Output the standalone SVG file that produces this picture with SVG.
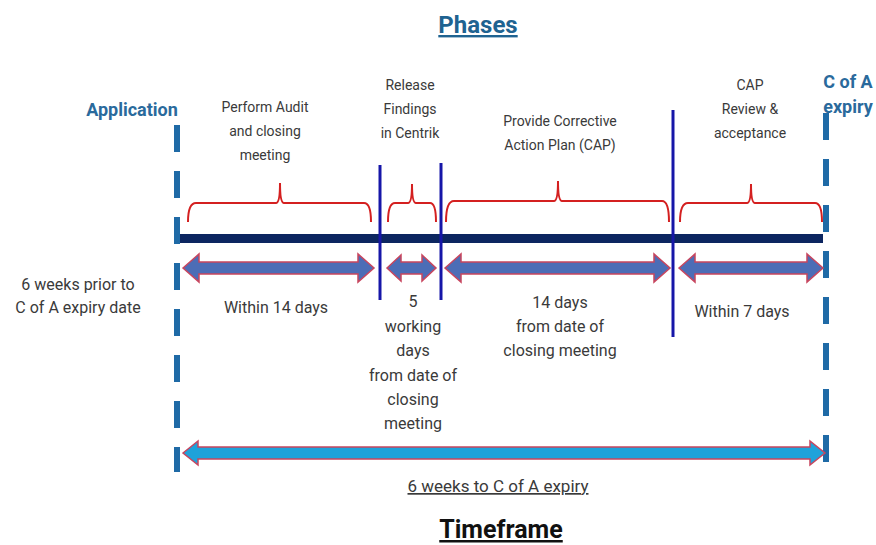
<svg xmlns="http://www.w3.org/2000/svg" width="876" height="545" viewBox="0 0 876 545">
<style>
.t{font-family:Roboto,"Liberation Sans",sans-serif;fill:#3a3a3a;text-anchor:middle}
.top{font-size:14px}
.bot{font-size:16px}
.head{font-family:Roboto,"Liberation Sans",sans-serif;font-weight:bold;fill:#2a6a9c;text-anchor:middle;font-size:18px}
.brace{fill:none;stroke:#d42020;stroke-width:2}
.arr{fill:#4c6db6;stroke:#c8455e;stroke-width:1.5;stroke-linejoin:miter}
.arr2{fill:#1fa2da;stroke:#c8455e;stroke-width:1.5}
.dash{stroke:#1f6aa6;stroke-width:6;stroke-dasharray:27 19}
.vl{stroke:#1616a8;stroke-width:3}
</style>
<rect width="876" height="545" fill="#ffffff"/>
<g id="title">
<text x="478" y="33" font-family="Roboto,'Liberation Sans',sans-serif" font-weight="bold" font-size="24" fill="#1f6391" text-anchor="middle" text-decoration="underline">Phases</text>
</g>
<g id="connectors">
<line class="dash" x1="177" y1="125" x2="177" y2="472"/>
<line class="dash" x1="826" y1="113" x2="826" y2="470"/>
<rect x="180" y="234" width="643" height="9" fill="#0c2660"/>
<line class="vl" x1="380" y1="165" x2="380" y2="300"/>
<line class="vl" x1="441" y1="163" x2="441" y2="300"/>
<line class="vl" x1="673" y1="110" x2="673" y2="337"/>
<path class="brace" d="M188,222 Q188,203 196,203 L276,203 Q280,203 280,183 Q280,203 284,203 L364,203 Q371,203 371,222"/>
<path class="brace" d="M388,222 Q388,203 395,203 L408,203 Q412,203 412,184 Q412,203 416,203 L430,203 Q436,203 436,222"/>
<path class="brace" d="M446,222 Q446,201 454,201 L554,201 Q558,201 558,181 Q558,201 562,201 L662,201 Q669,201 669,222"/>
<path class="brace" d="M680,222 Q680,203 688,203 L747,203 Q751,203 751,184 Q751,203 755,203 L815,203 Q822,203 822,222"/>
<polygon class="arr" points="183,268 199,254 199,262 358,262 358,254 374,268 358,282 358,274 199,274 199,282"/>
<polygon class="arr" points="387,268 401,255 401,262 422,262 422,255 436,268 422,281 422,274 401,274 401,281"/>
<polygon class="arr" points="445,268 461,254 461,262 654,262 654,254 670,268 654,282 654,274 461,274 461,282"/>
<polygon class="arr" points="679,268 695,254 695,262 807,262 807,254 823,268 807,282 807,274 695,274 695,282"/>
<polygon class="arr2" points="183,453 198,441 198,447 810,447 810,441 825,453 810,465 810,459 198,459 198,465"/>
</g>
<g id="application"><text class="head" x="132" y="116">Application</text></g>
<g id="cofa"><text class="head" x="848" y="88">C of A</text><text class="head" x="848" y="113">expiry</text></g>
<g id="phase1"><text class="t top"><tspan x="265" y="112">Perform Audit</tspan><tspan x="265" y="136">and closing</tspan><tspan x="265" y="160">meeting</tspan></text></g>
<g id="phase2"><text class="t top"><tspan x="410" y="90">Release</tspan><tspan x="410" y="114">Findings</tspan><tspan x="410" y="138">in Centrik</tspan></text></g>
<g id="phase3"><text class="t top"><tspan x="560" y="126">Provide Corrective</tspan><tspan x="560" y="150">Action Plan (CAP)</tspan></text></g>
<g id="phase4"><text class="t top"><tspan x="750" y="90">CAP</tspan><tspan x="750" y="114">Review &amp;</tspan><tspan x="750" y="138">acceptance</tspan></text></g>
<g id="prior"><text class="t bot"><tspan x="78" y="290">6 weeks prior to</tspan><tspan x="78" y="313">C of A expiry date</tspan></text></g>
<g id="t1"><text class="t bot" x="276" y="313">Within 14 days</text></g>
<g id="t2"><text class="t bot"><tspan x="413" y="307">5</tspan><tspan x="413" y="332">working</tspan><tspan x="413" y="356">days</tspan><tspan x="413" y="381">from date of</tspan><tspan x="413" y="405">closing</tspan><tspan x="413" y="429">meeting</tspan></text></g>
<g id="t3"><text class="t bot"><tspan x="560" y="308">14 days</tspan><tspan x="560" y="332">from date of</tspan><tspan x="560" y="356">closing meeting</tspan></text></g>
<g id="t4"><text class="t bot" x="742" y="317">Within 7 days</text></g>
<g id="total"><text class="t" font-size="17" x="498" y="492" text-decoration="underline">6 weeks to C of A expiry</text></g>
<g id="timeframe"><text x="501" y="538" font-family="Roboto,'Liberation Sans',sans-serif" font-weight="bold" font-size="25" fill="#111" text-anchor="middle" text-decoration="underline">Timeframe</text></g>
</svg>
